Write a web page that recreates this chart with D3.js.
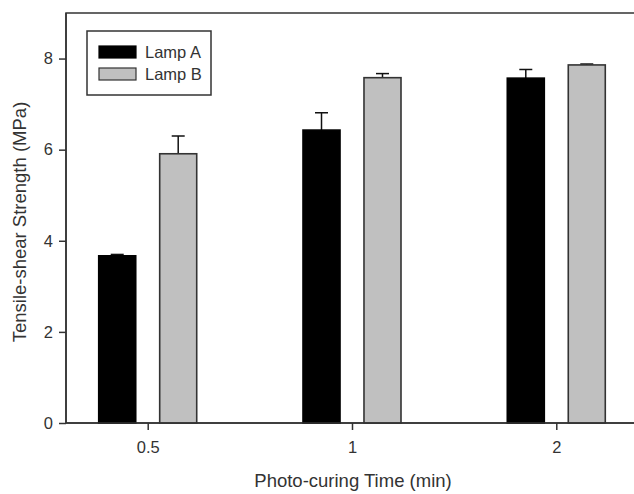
<!DOCTYPE html>
<html>
<head>
<meta charset="utf-8">
<script src="https://cdn.jsdelivr.net/npm/d3@7"></script>
<style>
  html, body { margin: 0; padding: 0; background: #fff; }
  svg { display: block; font-family: "Liberation Sans", Arial, sans-serif; }
</style>
</head>
<body>
<svg id="chart" width="634" height="494"></svg>
<script>
// Photo-curing time groups and the two lamps
const categories = ["0.5", "1", "2"];
const seriesNames = ["Lamp A", "Lamp B"];
const lampA = [3.67, 6.43, 7.57];
const lampAErr = [0.03, 0.38, 0.19];
const lampB = [5.91, 7.58, 7.86];
const lampBErr = [0.39, 0.09, 0.02];
const yTicks = [0, 2, 4, 6, 8];

const fills = ["#000000", "#c0c0c0"];
const strokes = ["#000000", "#333333"];
const textColor = "#333";

const svg = d3.select("#chart");
const plotLeft = 66, plotTop = 13, plotRight = 638, plotBottom = 423;

const x = d3.scalePoint().domain(categories).range([plotLeft, plotRight]).padding(0.4);
const xs = d3.scaleBand().domain(seriesNames).range([-49, 49]).paddingInner(0.393);
const y = d3.scaleLinear().domain([0, 9]).range([plotBottom, plotTop]);

const series = [
  { name: seriesNames[0], values: lampA, err: lampAErr },
  { name: seriesNames[1], values: lampB, err: lampBErr }
];

// Plot frame (top edge runs off to the right)
svg.append("rect")
  .attr("x", plotLeft).attr("y", plotTop)
  .attr("width", plotRight - plotLeft).attr("height", plotBottom - plotTop)
  .attr("fill", "none").attr("stroke", "#333").attr("stroke-width", 1.5);

// Bars with upward error bars
series.forEach((s, si) => {
  const g = svg.append("g");
  s.values.forEach((v, i) => {
    const x0 = x(categories[i]) + xs(s.name);
    const bw = xs.bandwidth();
    const cx = x0 + bw / 2;
    // error bar stem and cap
    g.append("line")
      .attr("x1", cx).attr("x2", cx)
      .attr("y1", y(v)).attr("y2", y(v + s.err[i]))
      .attr("stroke", "#111").attr("stroke-width", 1.5);
    g.append("line")
      .attr("x1", cx - 6.5).attr("x2", cx + 6.5)
      .attr("y1", y(v + s.err[i])).attr("y2", y(v + s.err[i]))
      .attr("stroke", "#111").attr("stroke-width", 1.5);
    g.append("rect")
      .attr("x", x0).attr("y", y(v))
      .attr("width", bw).attr("height", y(0) - y(v))
      .attr("fill", fills[si]).attr("stroke", strokes[si]).attr("stroke-width", 1.6);
  });
});

// Axes
const yAxis = d3.axisLeft(y).tickValues(yTicks).tickSize(7).tickPadding(6).tickFormat(d3.format("d"));
const yg = svg.append("g").attr("transform", `translate(${plotLeft},0)`).call(yAxis);
const xAxis = d3.axisBottom(x).tickSize(7).tickPadding(11);
const xg = svg.append("g").attr("transform", `translate(0,${plotBottom})`).call(xAxis);
[yg, xg].forEach(g => {
  g.select(".domain").remove();
  g.selectAll(".tick line").attr("stroke", "#333").attr("stroke-width", 1.5);
  g.selectAll(".tick text")
    .attr("fill", textColor)
    .style("font-size", "16.5px")
    .style("font-family", "\"Liberation Sans\", Arial, sans-serif");
});
// redraw baseline and left axis line over the bars
svg.append("line").attr("x1", plotLeft).attr("x2", plotRight).attr("y1", plotBottom).attr("y2", plotBottom)
  .attr("stroke", "#333").attr("stroke-width", 1.5);
svg.append("line").attr("x1", plotLeft).attr("x2", plotLeft).attr("y1", plotTop).attr("y2", plotBottom)
  .attr("stroke", "#333").attr("stroke-width", 1.5);

// Axis titles
svg.append("text")
  .attr("x", (253 + 453) / 2).attr("y", 487)
  .attr("text-anchor", "middle")
  .attr("fill", textColor).style("font-size", "18.5px")
  .text("Photo-curing Time (min)");
svg.append("text")
  .attr("transform", `translate(26,${(plotTop + plotBottom) / 2 + 4}) rotate(-90)`)
  .attr("text-anchor", "middle")
  .attr("fill", textColor).style("font-size", "18.5px")
  .text("Tensile-shear Strength (MPa)");

// Legend
const legend = svg.append("g");
legend.append("rect")
  .attr("x", 87).attr("y", 31).attr("width", 124).attr("height", 64)
  .attr("fill", "#fff").attr("stroke", "#333").attr("stroke-width", 1.5);
seriesNames.forEach((name, i) => {
  const yy = 46 + i * 22;
  legend.append("rect")
    .attr("x", 99).attr("y", yy).attr("width", 37).attr("height", 12)
    .attr("fill", fills[i]).attr("stroke", strokes[i]).attr("stroke-width", 1.2);
  legend.append("text")
    .attr("x", 145).attr("y", yy + 12)
    .attr("fill", textColor).style("font-size", "16.5px")
    .text(name);
});
</script>
</body>
</html>
